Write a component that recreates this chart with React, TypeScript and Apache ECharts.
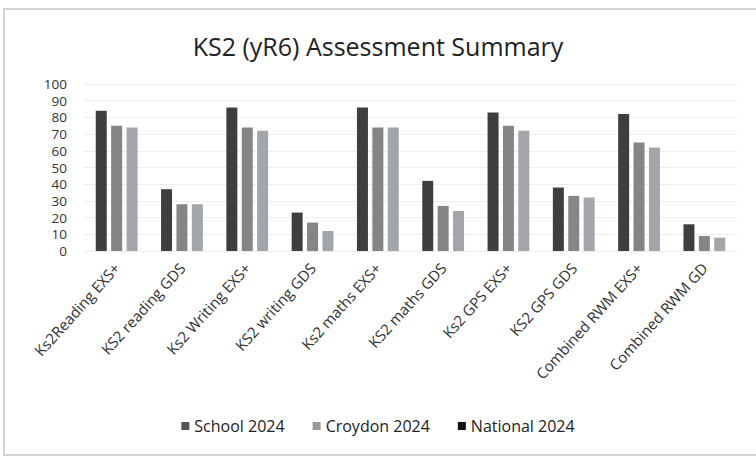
import React, { useEffect, useRef } from "react";
import * as echarts from "echarts";

const categories = [
  "Ks2Reading EXS+",
  "KS2 reading GDS",
  "Ks2 Writing EXS+",
  "KS2 writing GDS",
  "Ks2 maths EXS+",
  "KS2 maths GDS",
  "Ks2 GPS EXS+",
  "KS2 GPS GDS",
  "Combined RWM EXS+",
  "Combined RWM GD",
];
const school2024 = [84, 37, 86, 23, 86, 42, 83, 38, 82, 16];
const croydon2024 = [75, 28, 74, 17, 74, 27, 75, 33, 65, 9];
const national2024 = [74, 28, 72, 12, 74, 24, 72, 32, 62, 8];
const seriesNames = ["School 2024", "Croydon 2024", "National 2024"];
const yTicks = { min: 0, max: 100, interval: 10 };

const FONT = "'Open Sans', 'Noto Sans', sans-serif";

export default function App() {
  const ref = useRef<HTMLDivElement>(null);
  useEffect(() => {
    if (!ref.current) return;
    const chart = echarts.init(ref.current, null, { renderer: "svg" });
    const barColors = ["#3e3e3e", "#858585", "#a2a5a9"];
    const legendColors = ["#555555", "#9a9a9a", "#111111"];
    const values = [school2024, croydon2024, national2024];
    chart.setOption({
      animation: false,
      backgroundColor: "#ffffff",
      title: {
        text: "KS2 (yR6) Assessment Summary",
        left: "center",
        top: 28,
        textStyle: { fontFamily: FONT, fontSize: 25, fontWeight: "normal", color: "#222" },
      },
      legend: {
        bottom: 20,
        left: "center",
        itemWidth: 8,
        itemHeight: 8,
        itemGap: 28,
        icon: "rect",
        textStyle: { fontFamily: FONT, fontSize: 16, color: "#222" },
        data: seriesNames.map((n, i) => ({ name: n, itemStyle: { color: legendColors[i] } })),
      },
      grid: { left: 84, right: 19, top: 84, bottom: 208 },
      xAxis: {
        type: "category",
        data: categories,
        axisTick: { show: false },
        axisLine: { show: false },
        axisLabel: {
          interval: 0,
          rotate: 48,
          margin: 14,
          fontFamily: FONT,
          fontSize: 15,
          color: "#333",
        },
      },
      yAxis: {
        type: "value",
        min: yTicks.min,
        max: yTicks.max,
        interval: yTicks.interval,
        axisLine: { show: false },
        axisTick: { show: false },
        splitLine: { lineStyle: { color: "#ededed", width: 1 } },
        axisLabel: { fontFamily: FONT, fontSize: 13.5, lineHeight: 13, color: "#333", margin: 17 },
      },
      graphic: [
        {
          type: "rect",
          shape: { x: 4, y: 9, width: 800, height: 446 },
          style: { fill: "none", stroke: "#c4c4c4", lineWidth: 1.5 },
          silent: true,
          z: -1,
        },
      ],
      series: seriesNames.map((n, i) => ({
        name: n,
        type: "bar",
        data: values[i],
        barWidth: 11,
        barGap: "40%",
        itemStyle: { color: barColors[i] },
      })),
    });
    return () => chart.dispose();
  }, []);
  return (
    <div
      ref={ref}
      style={{ position: "fixed", left: 0, top: 0, width: 756, height: 459 }}
    />
  );
}
